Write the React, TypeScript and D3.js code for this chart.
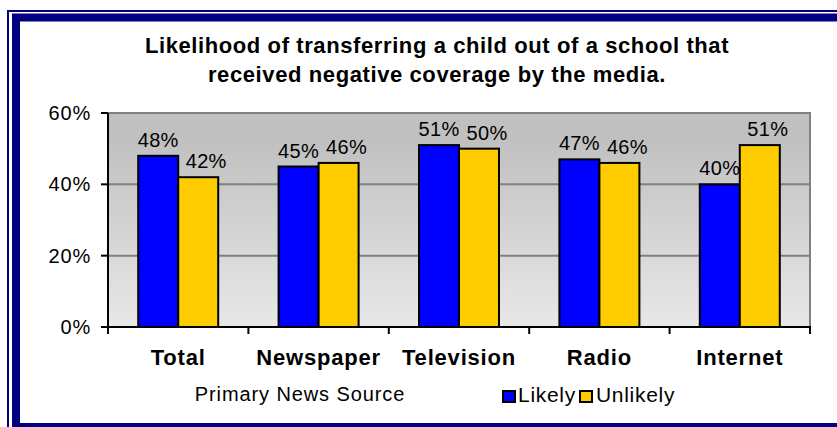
import React from "react";
import * as d3 from "d3";

const categories = ["Total", "Newspaper", "Television", "Radio", "Internet"];
const seriesNames = ["Likely", "Unlikely"];
const likely = [48, 45, 51, 47, 40];
const unlikely = [42, 46, 50, 46, 51];
const yTicks = [0, 20, 40, 60];
const titleLines = [
  "Likelihood of transferring a child out of a school that",
  "received negative coverage by the media.",
];
const xAxisTitle = "Primary News Source";

const W = 837;
const H = 427;
const colors = ["#0000FF", "#FFCC00"];
const labelDx = [0, 8];
const FONT = "'Liberation Sans', Arial, sans-serif";

export default function App() {
  const plot = { left: 108, right: 810, top: 113, bottom: 327 };
  const x = d3
    .scaleBand<string>()
    .domain(categories)
    .range([plot.left, plot.right])
    .paddingInner(0)
    .paddingOuter(0);
  const inner = d3
    .scaleBand<string>()
    .domain(seriesNames)
    .range([0, 80]);
  const y = d3.scaleLinear().domain([0, 60]).range([plot.bottom, plot.top]);
  const series = [likely, unlikely];
  const groupOffset = (x.bandwidth() - 80) / 2;

  return (
    <svg
      width={W}
      height={H}
      style={{ position: "absolute", left: 0, top: 0, fontFamily: FONT }}
    >
      <defs>
        <linearGradient id="bg" x1="0" y1="0" x2="0" y2="1">
          <stop offset="0" stopColor="#c0c0c0" />
          <stop offset="0.12" stopColor="#c0c0c0" />
          <stop offset="1" stopColor="#e8e8e8" />
        </linearGradient>
      </defs>
      <rect x={0} y={0} width={W} height={H} fill="#ffffff" />
      {/* frame */}
      <rect x={8} y={11} width={W + 20} height={H + 20} fill="none" stroke="#000080" strokeWidth={2} />
      <rect x={16} y={17.5} width={W + 20} height={409.5} fill="none" stroke="#000080" strokeWidth={8} />

      {/* title */}
      {titleLines.map((t, i) => (
        <text
          key={i}
          x={437}
          y={53 + i * 29}
          textAnchor="middle"
          fontWeight="bold"
          fontSize={22}
          letterSpacing={0.6}
          fill="#000"
        >
          {t}
        </text>
      ))}

      {/* plot background */}
      <rect
        x={plot.left}
        y={plot.top}
        width={plot.right - plot.left}
        height={plot.bottom - plot.top}
        fill="url(#bg)"
      />
      {/* gridlines */}
      {yTicks
        .filter((t) => t > 0)
        .map((t) => (
          <line
            key={t}
            x1={plot.left}
            x2={plot.right}
            y1={y(t)}
            y2={y(t)}
            stroke="#808080"
            strokeWidth={2}
          />
        ))}
      <line x1={plot.right} x2={plot.right} y1={plot.top - 1} y2={plot.bottom} stroke="#808080" strokeWidth={2} />

      {/* bars */}
      {categories.map((c, ci) =>
        series.map((s, si) => {
          const bx = (x(c) as number) + groupOffset + (inner(seriesNames[si]) as number);
          const by = y(s[ci]);
          return (
            <g key={c + si}>
              <rect
                x={bx}
                y={by}
                width={inner.bandwidth()}
                height={plot.bottom - by}
                fill={colors[si]}
                stroke="#000"
                strokeWidth={2}
              />
              <text
                x={bx + inner.bandwidth() / 2 + labelDx[si]}
                y={by - 9}
                textAnchor="middle"
                fontSize={20}
                letterSpacing={0.3}
                fill="#000"
              >
                {s[ci]}%
              </text>
            </g>
          );
        })
      )}

      {/* axes */}
      <line x1={plot.left} x2={plot.left} y1={plot.top} y2={plot.bottom + 1} stroke="#000" strokeWidth={2} />
      <line x1={plot.left - 1} x2={plot.right + 1} y1={plot.bottom} y2={plot.bottom} stroke="#000" strokeWidth={2} />
      {yTicks.map((t) => (
        <g key={t}>
          <line x1={plot.left - 7} x2={plot.left} y1={y(t)} y2={y(t)} stroke="#000" strokeWidth={2} />
          <text x={91} y={y(t) + 7} textAnchor="end" fontSize={20} letterSpacing={0.8} fill="#000">
            {t}%
          </text>
        </g>
      ))}
      {[...categories.map((c) => x(c) as number), plot.right].map((v, i) => (
        <line key={i} x1={v} x2={v} y1={plot.bottom} y2={plot.bottom + 7} stroke="#000" strokeWidth={2} />
      ))}
      {categories.map((c) => (
        <text
          key={c}
          x={(x(c) as number) + x.bandwidth() / 2}
          y={365}
          textAnchor="middle"
          fontWeight="bold"
          fontSize={22}
          letterSpacing={0.8}
          fill="#000"
        >
          {c}
        </text>
      ))}
      <text x={300} y={401} textAnchor="middle" fontSize={20} letterSpacing={0.9} fill="#000">
        {xAxisTitle}
      </text>

      {/* legend */}
      {seriesNames.map((n, i) => {
        const lx = i === 0 ? 503 : 580;
        return (
          <g key={n}>
            <rect x={lx} y={391} width={12} height={11} fill={colors[i]} stroke="#000" strokeWidth={2} />
            <text x={lx + (i === 0 ? 15 : 16)} y={402} fontSize={21} letterSpacing={0.7} fill="#000">
              {n}
            </text>
          </g>
        );
      })}
    </svg>
  );
}
